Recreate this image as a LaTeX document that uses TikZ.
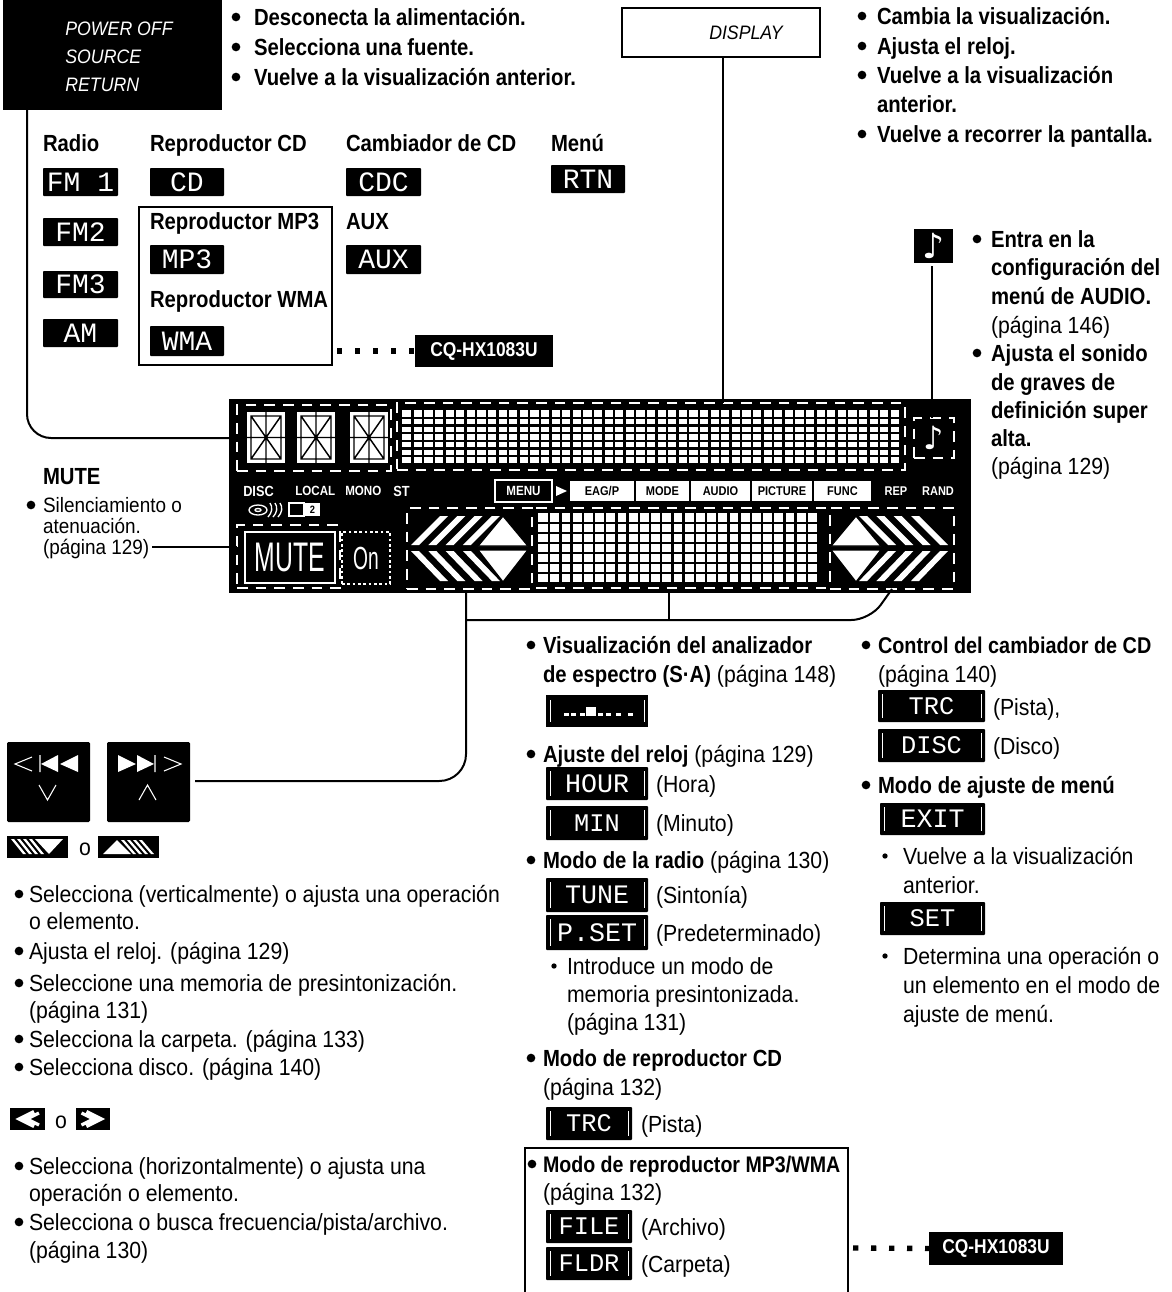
\documentclass[tikz,border=0pt]{standalone}
\usepackage{fontspec}
\setmainfont[FakeStretch=0.91,BoldFeatures={FakeStretch=0.87}]{Liberation Sans}
\newfontfamily\lcdf{Liberation Mono}
\newfontfamily\djv{DejaVu Sans}
\newfontfamily\mutef[FakeStretch=0.6]{Liberation Sans}
\newcount\tcnt
\newcommand\T[3]{\global\advance\tcnt by 1 \node[tx] (t\the\tcnt) at (#1,{#2+8}) {#3};}
\newcommand\TS[3]{\global\advance\tcnt by 1 \node[tx,font=\fontsize{15.6pt}{18pt}\selectfont] (t\the\tcnt) at (#1,{#2+7}) {#3};}
\newcommand\TB[3]{\global\advance\tcnt by 1 \node[tx,font=\fontsize{17.5pt}{19pt}\selectfont\bfseries] (t\the\tcnt) at (#1,{#2+8}) {#3};}
\newcommand\Bul[2]{\global\advance\tcnt by 1 \node[bul] (t\the\tcnt) at (#1,#2) {};}
\newcommand\Sm[2]{\global\advance\tcnt by 1 \node[smbul] (t\the\tcnt) at (#1,#2) {};}
% name x1 y1 x2 y2 style text
\newcommand\BX[7]{\node[inner sep=0pt,outer sep=0pt,minimum width={(#4-#2)*0.75pt},minimum height={(#5-#3)*0.75pt},#6] (#1) at ({(#2+#4)/2},{(#3+#5)/2}) {#7};}
\newcommand\LC[6][21]{\BX{l\the\tcnt a}{#2}{#3}{#4}{#5}{fill=black,rounded corners=0.6pt,text=white,font=\lcdf\fontsize{#1pt}{#1pt}\selectfont}{#6}\global\advance\tcnt by 1 }
\newcommand\LCe[6][19]{\LC[#1]{#2}{#3}{#4}{#5}{#6}\draw[white,line width=0.7pt] ({#2+4},{#3+4}) -- ({#2+4},{#5-4}) ({#4-4},{#3+4}) -- ({#4-4},{#5-4});}
% 14-segment
\newcommand\Seg[3]{\BX{#1}{#2}{#3}{#2+38}{#3+51}{fill=white}{}
 \draw[black,line width=1.1pt] ({#2+4},{#3+4}) rectangle ({#2+34},{#3+47})
  ({#2+19},{#3+4}) -- ({#2+19},{#3+47}) ({#2+4},{#3+25.5}) -- ({#2+34},{#3+25.5})
  ({#2+4},{#3+4}) -- ({#2+34},{#3+47}) ({#2+34},{#3+4}) -- ({#2+4},{#3+47})
  ({#2},{#3+25.5}) -- ({#2+4},{#3+25.5}) ({#2+34},{#3+25.5}) -- ({#2+38},{#3+25.5})
  ({#2+19},{#3}) -- ({#2+19},{#3+4}) ({#2+19},{#3+47}) -- ({#2+19},{#3+51});}
% matrix: name x1 y1 cols rows cw ch
\newcommand\Mat[7]{\BX{#1}{#2}{#3}{#2+#4*#6}{#3+#5*#7}{fill=white}{}
 \foreach \i in {1,...,#4} {\draw[black,line width=1.8pt] ({#2+\i*#6},#3) -- ({#2+\i*#6},{#3+#5*#7});}
 \foreach \j in {1,...,#5} {\draw[black,line width=1.8pt] (#2,{#3+\j*#7}) -- ({#2+#4*#6},{#3+\j*#7});}}
% chevron group
\newcommand\Chev{%
 \foreach \k in {0,1,2,3} {
  \fill[white] ({411+\k*17.3},545) -- ({440+\k*17.3},516) -- ({448+\k*17.3},516) -- ({419+\k*17.3},545) -- cycle;
  \fill[white] ({411+\k*17.3},551) -- ({440+\k*17.3},581) -- ({448+\k*17.3},581) -- ({419+\k*17.3},551) -- cycle;}
 \filldraw[white,draw=black,line width=1pt] (478,546) -- (503,516) -- (528,546) -- cycle;
 \filldraw[white,draw=black,line width=1pt] (478,550) -- (503,582) -- (528,550) -- cycle;}
\tikzset{
 x=0.75pt,y=-0.75pt,
 tx/.style={anchor=base west,inner sep=0pt,outer sep=0pt,font=\fontsize{17.5pt}{19pt}\selectfont},
 bul/.style={circle,fill=black,inner sep=0pt,minimum size=6.5pt},
 smbul/.style={circle,fill=black,inner sep=0pt,minimum size=4pt},
 conn/.style={black,line width=1.5pt},
 dbox/.style={draw=white,line width=1.2pt,dash pattern=on 8pt off 6pt},
 dots/.style={black,line width=4pt,dash pattern=on 4pt off 9.5pt},
 pan/.style={text=white,font=\fontsize{11pt}{12pt}\selectfont\bfseries},
 fb/.style={fill=white,text=black,font=\fontsize{9.5pt}{10pt}\selectfont\bfseries},
 cq/.style={fill=black,text=white,font=\fontsize{15pt}{17pt}\selectfont\bfseries},
 frame/.style={draw=black,line width=1.3pt}
}
\begin{document}
\begin{tikzpicture}
\useasboundingbox (0,0) rectangle (1171,1292);
\fill[white] (0,0) rectangle (1171,1292);
%% top left
\BX{pwr}{3}{-1}{222}{110}{fill=black}{}
\node[anchor=center,text=white,font=\fontsize{14.6pt}{21pt}\selectfont\itshape,align=left] (pwrt) at (119,57) {POWER OFF\\SOURCE\\RETURN};
\Bul{236}{17}\TB{254}{17}{Desconecta la alimentación.}
\Bul{236}{47}\TB{254}{47}{Selecciona una fuente.}
\Bul{236}{77}\TB{254}{77}{Vuelve a la visualización anterior.}
%% display
\BX{disp}{622}{8}{820}{57}{frame}{}
\node[font=\fontsize{14.6pt}{17pt}\selectfont\itshape] (dispt) at (746,33) {DISPLAY};
\Bul{862}{16}\TB{877}{16}{Cambia la visualización.}
\Bul{862}{46}\TB{877}{46}{Ajusta el reloj.}
\Bul{862}{75}\TB{877}{75}{Vuelve a la visualización}
\TB{877}{104}{anterior.}
\Bul{862}{134}\TB{877}{134}{Vuelve a recorrer la pantalla.}
%% source labels
\TB{43}{143}{Radio}\TB{150}{143}{Reproductor CD}\TB{346}{143}{Cambiador de CD}\TB{551}{143}{Menú}
\LC{43}{168}{118}{196}{FM 1}
\LC{43}{218}{118}{246}{FM2}
\LC{43}{271}{118}{298}{FM3}
\LC{43}{319}{118}{347}{AM}
\LC{150}{168}{224}{196}{CD}
\LC{346}{168}{421}{196}{CDC}
\LC{551}{165}{625}{193}{RTN}
\BX{mpf}{139}{207}{332}{365}{frame}{}
\TB{150}{221}{Reproductor MP3}
\LC{150}{245}{224}{274}{MP3}
\TB{150}{299}{Reproductor WMA}
\LC{150}{326}{224}{356}{WMA}
\TB{346}{221}{AUX}
\LC{346}{245}{421}{274}{AUX}
\BX{cq1}{415}{335}{553}{367}{cq}{CQ-HX1083U}
\draw[dots] (mpf.east |- cq1.west) ++(5,0) -- (cq1.west);
%% note
\BX{nt}{914}{229}{953}{263}{fill=black,text=white,font=\djv\fontsize{26pt}{26pt}\selectfont}{♪}
\Bul{977}{239}\TB{991}{239}{Entra en la}
\TB{991}{267}{configuración del}
\TB{991}{296}{menú de AUDIO.}
\T{991}{325}{(página 146)}
\Bul{977}{353}\TB{991}{353}{Ajusta el sonido}
\TB{991}{382}{de graves de}
\TB{991}{410}{definición super}
\TB{991}{438}{alta.}
\T{991}{466}{(página 129)}
%% panel
\BX{panel}{229}{399}{971}{593}{fill=black}{}
\BX{segs}{237}{405}{391}{471}{dbox}{}
\Seg{s1}{247}{412}\Seg{s2}{297}{412}\Seg{s3}{350}{412}
\BX{matb}{397}{403}{905}{470}{dbox}{}
\Mat{m1}{402}{410}{47}{7}{10.6}{7.7}
\BX{ntb}{914}{418}{954}{458}{dbox}{}
\node[text=white,font=\djv\fontsize{24pt}{24pt}\selectfont] (ntg) at (934,438) {♪};
\node[pan,anchor=west,inner sep=0pt] (pa) at (243,491) {DISC};
\node[pan,anchor=west,inner sep=0pt,font=\fontsize{10pt}{10pt}\selectfont\bfseries] (pb) at (295,491) {LOCAL};
\node[pan,anchor=west,inner sep=0pt,font=\fontsize{10pt}{10pt}\selectfont\bfseries] (pc) at (345,491) {MONO};
\node[pan,anchor=west,inner sep=0pt] (pd) at (393,491) {ST};
\draw[white,line width=1pt] (258,510) ellipse (9 and 5);
\draw[white,line width=1pt] (258,510) ellipse (3 and 1.5);
\draw[white,line width=1pt] (270,503) .. controls (273,507) and (272,513) .. (268,517)
  (275,503) .. controls (278,507) and (277,513) .. (273,517)
  (280,503) .. controls (283,507) and (282,513) .. (278,517);
\BX{pf}{289}{503}{304}{516}{draw=white,line width=0.8pt}{}
\BX{pg}{305}{503}{320}{516}{fill=white,text=black,font=\fontsize{8pt}{9pt}\selectfont\bfseries}{2}
\BX{mn}{495}{480}{552}{502}{draw=white,line width=0.8pt,text=white,font=\fontsize{10pt}{10pt}\selectfont\bfseries}{MENU}
\fill[white] (556,486) -- (567,491) -- (556,496) -- cycle;
\BX{f1}{570}{481}{634}{501}{fb}{EAG/P}
\BX{f2}{636}{481}{689}{501}{fb}{MODE}
\BX{f3}{691}{481}{750}{501}{fb}{AUDIO}
\BX{f4}{752}{481}{812}{501}{fb}{PICTURE}
\BX{f5}{814}{481}{871}{501}{fb}{FUNC}
\node[pan,inner sep=0pt,font=\fontsize{9.5pt}{10pt}\selectfont\bfseries] (rep) at (896,491) {REP};
\node[pan,inner sep=0pt,font=\fontsize{9.5pt}{10pt}\selectfont\bfseries] (rnd) at (938,491) {RAND};
\BX{mb}{237}{525}{340}{588}{dbox}{}
\BX{mt}{245}{532}{335}{583}{draw=white,line width=1.2pt,text=white,font=\mutef\fontsize{31pt}{31pt}\selectfont}{MUTE}
\BX{onb}{342}{532}{390}{584}{dbox,line width=0.8pt,dash pattern=on 2pt off 2pt,text=white,font=\mutef\fontsize{24pt}{24pt}\selectfont}{On}
\BX{lg}{407}{508}{532}{589}{dbox}{}
\Chev
\Mat{m2}{538}{513}{25}{7}{11.2}{10}
\coordinate (cmtl) at (536,508);\coordinate (cmtr) at (826,508);
\coordinate (cmbl) at (536,588);\coordinate (cmbr) at (826,588);
\draw[dbox] (cmtl) -- (cmtr) (cmbl) -- (cmbr);
\BX{rg}{830}{508}{954}{589}{dbox}{}
\begin{scope}[shift={(1359,0)},xscale=-1]\Chev\end{scope}
%% panel connectors
\coordinate (pwrp) at (27,110);
\draw[conn,rounded corners=18pt] (pwrp) -- (pwrp |- segs.west) -- (segs.west);
\coordinate (matp) at (723,403);
\draw[conn] (disp.south -| matp) -- (matp);
\coordinate (ntp) at (932,266);
\draw[conn] (ntp) -- (ntp |- ntb.north);
\coordinate (muteL) at (152,547);
\draw[conn] (muteL) -- (muteL -| mb.west);
\coordinate (ba) at (466,593);
\coordinate (bb) at (669,593);
\coordinate (bc) at (892,589);
\coordinate (bj) at (669,620);
\coordinate (btnp) at (195,781);
\draw[conn] (bb) -- (bj);
\draw[conn,rounded corners=14pt] (ba |- bj) -- (bj) -- (870,620) -- (bc);
\draw[conn,rounded corners=20pt] (ba) -- (ba |- btnp) -- (btnp);
%% mute text
\TB{43}{476}{MUTE}
\Bul{31}{505}\TS{43}{505}{Silenciamiento o}
\TS{43}{526}{atenuación.}
\TS{43}{547}{(página 129)}
%% buttons
\BX{b1}{7}{742}{90}{822}{fill=black,rounded corners=1pt}{}
\BX{b2}{107}{742}{190}{822}{fill=black,rounded corners=1pt}{}
\draw[white,line width=0.8pt] (32,757) -- (15,764) -- (32,771) (40,755) -- (40,772) (39,785) -- (47.5,800) -- (56,785);
\fill[white] (41,764) -- (58,755) -- (58,772) -- cycle (60,764) -- (78,755) -- (78,772) -- cycle;
\draw[white,line width=0.8pt] (164,757) -- (181,764) -- (164,771) (155,755) -- (155,772) (139,800) -- (147.5,785) -- (156,800);
\fill[white] (136,764) -- (118,755) -- (118,772) -- cycle (154,764) -- (137,755) -- (137,772) -- cycle;
\BX{i1}{7}{836}{68}{858}{fill=black}{}
\begin{scope}[shift={(11,839)}]
 \foreach \k in {0,1,2,3} {\fill[white] ({\k*6},0) -- ({\k*6+3},0) -- ({\k*6+15},15) -- ({\k*6+12},15) -- cycle;}
 \fill[white] (24,0) -- (52,0) -- (38,15) -- cycle;
\end{scope}
\T{79}{847}{o}
\BX{i2}{98}{836}{159}{858}{fill=black}{}
\begin{scope}[shift={(103,840)}]
 \foreach \k in {0,1,2,3} {\fill[white] ({\k*6+18},0) -- ({\k*6+21},0) -- ({\k*6+33},14) -- ({\k*6+30},14) -- cycle;}
 \fill[white] (0,14) -- (14,0) -- (28,14) -- cycle;
\end{scope}
%% left list
\Bul{19}{894}\T{29}{894}{Selecciona (verticalmente) o ajusta una operación}
\T{29}{921}{o elemento.}
\Bul{19}{951}\T{29}{951}{Ajusta el reloj. (página 129)}
\Bul{19}{983}\T{29}{983}{Seleccione una memoria de presintonización.}
\T{29}{1010}{(página  131)}
\Bul{19}{1039}\T{29}{1039}{Selecciona la carpeta. (página 133)}
\Bul{19}{1067}\T{29}{1067}{Selecciona disco. (página 140)}
\BX{i3}{10}{1108}{45}{1130}{fill=black}{}
\draw[white,line width=2.4pt] (34,1111.5) -- (19,1119) -- (34,1126.5) (39,1113) -- (27,1119) -- (39,1125);
\T{55}{1120}{o}
\BX{i4}{76}{1108}{110}{1130}{fill=black}{}
\draw[white,line width=2.4pt] (86.5,1111.5) -- (101.5,1119) -- (86.5,1126.5) (81.5,1113) -- (93.5,1119) -- (81.5,1125);
\Bul{19}{1166}\T{29}{1166}{Selecciona (horizontalmente) o ajusta una}
\T{29}{1193}{operación o elemento.}
\Bul{19}{1222}\T{29}{1222}{Selecciona o busca frecuencia/pista/archivo.}
\T{29}{1250}{(página 130)}
%% centre column
\Bul{531}{645}\TB{543}{645}{Visualización del analizador}
\T{543}{674}{\textbf{de espectro (S·A)} (página 148)}
\BX{sab}{546}{695}{648}{727}{fill=black}{}
\foreach \px/\ph in {564/3,571/3,580/3,586/9,591/9,598/3,606/3,616/3,628/3} {\fill[white] (\px,716) rectangle ++(5,-\ph);}
\draw[white,line width=0.7pt] (550,700) -- (550,722) (644,700) -- (644,722);
\Bul{531}{754}\T{543}{754}{\textbf{Ajuste del reloj} (página 129)}
\LCe[20]{546}{767}{648}{800}{HOUR}\T{656}{784}{(Hora)}
\LCe[19]{546}{806}{648}{840}{MIN}\T{656}{823}{(Minuto)}
\Bul{531}{860}\T{543}{860}{\textbf{Modo de la radio} (página 130)}
\LCe[20]{546}{878}{648}{912}{TUNE}\T{656}{895}{(Sintonía)}
\LCe[20]{546}{915}{648}{950}{P.SET}\T{656}{933}{(Predeterminado)}
\Sm{554}{966}\T{567}{966}{Introduce un modo de}
\T{567}{994}{memoria presintonizada.}
\T{567}{1022}{(página 131)}
\Bul{531}{1058}\TB{543}{1058}{Modo de reproductor CD}
\T{543}{1087}{(página 132)}
\LCe[19]{546}{1107}{632}{1140}{TRC}\T{641}{1124}{(Pista)}
\coordinate (ffl) at (525,1292);\coordinate (ffr) at (848,1292);\coordinate (ftl) at (525,1148);\coordinate (ftr) at (848,1148);
\draw[black,line width=1.3pt] (ffl) -- (ftl) -- (ftr) -- (ffr);
\Bul{532}{1164}\T{543}{1164}{\fontsize{16.9pt}{19pt}\selectfont\bfseries Modo de reproductor MP3/WMA}
\T{543}{1192}{(página 132)}
\LCe[19]{546}{1210}{632}{1243}{FILE}\T{641}{1227}{(Archivo)}
\LCe[19]{546}{1247}{632}{1280}{FLDR}\T{641}{1264}{(Carpeta)}
\BX{cq2}{929}{1232}{1063}{1265}{cq}{CQ-HX1083U}
\coordinate (fdot) at (853,1248);
\draw[dots] (fdot) -- (cq2.west);
%% right column
\Bul{866}{645}\T{878}{645}{\fontsize{17.1pt}{19pt}\selectfont\bfseries Control del cambiador de CD}
\T{878}{674}{(página 140)}
\LCe[19]{878}{690}{985}{722}{TRC}\T{993}{707}{(Pista),}
\LCe[19]{878}{729}{985}{762}{DISC}\T{993}{746}{(Disco)}
\Bul{866}{785}\TB{878}{785}{Modo de ajuste de menú}
\LCe[20]{880}{803}{985}{835}{EXIT}
\Sm{885}{856}\T{903}{856}{Vuelve a la visualización}
\T{903}{885}{anterior.}
\LCe[19]{880}{902}{985}{935}{SET}
\Sm{885}{956}\T{903}{956}{Determina una operación o}
\T{903}{985}{un elemento en el modo de}
\T{903}{1014}{ajuste de menú.}
\end{tikzpicture}
\end{document}
